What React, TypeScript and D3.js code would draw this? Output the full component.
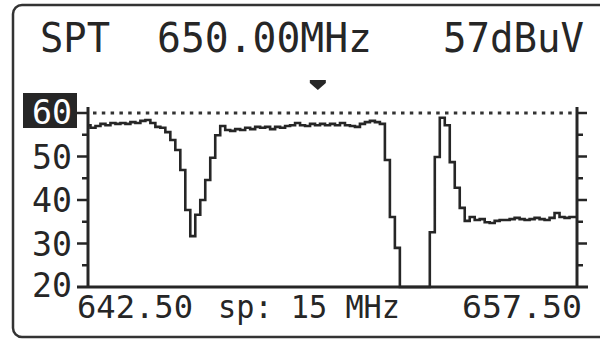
import React from "react";
import * as d3 from "d3";

const startFreq = 642.5;
const stopFreq = 657.5;
const markerFreq = 649.55;
const refLevel = 60;
const yTicks = [20, 30, 40, 50, 60];
const yMinorTicks = [25, 35, 45, 55];
const headerTexts = ["SPT", "650.00MHz", "57dBuV"];
const footerTexts = ["642.50", "sp: 15 MHz", "657.50"];

// trace level (dBuV) per sweep bin
const traceLevels = [
  57.2, 56.6, 57.0, 57.5, 57.2, 57.7, 57.5, 57.7, 57.5, 57.9,
  57.7, 58.2, 58.4, 57.7, 56.8, 56.6, 55.6, 53.8, 51.5, 46.9,
  37.7, 31.7, 36.6, 40.0, 44.6, 49.7, 54.9, 57.0, 56.1, 55.9,
  56.3, 56.1, 56.6, 56.3, 56.8, 56.6, 56.8, 56.3, 56.8, 56.6,
  57.0, 57.2, 57.7, 57.2, 57.0, 57.5, 57.2, 57.5, 57.2, 57.5,
  57.2, 57.7, 57.2, 57.0, 56.8, 57.5, 57.9, 58.2, 57.9, 57.5,
  49.2, 36.1, 29.0, 12.0, 12.0, 12.0, 12.0, 12.0, 12.0, 32.6,
  49.9, 58.9, 57.2, 48.7, 42.8, 38.2, 35.2, 36.1, 35.4, 35.6,
  34.9, 34.7, 35.2, 35.4, 35.4, 35.6, 35.9, 35.6, 35.4, 35.6,
  35.9, 35.6, 35.4, 35.9, 37.0, 36.1, 35.9, 36.1, 36.1,
];

const W = 600;
const H = 342;
const ink = "#262626";
const font = "'DejaVu Sans Mono', monospace";

export default function App() {
  const x = d3.scaleLinear().domain([startFreq, stopFreq]).range([88, 577]);
  const y = d3.scaleLinear().domain([20, 60]).range([287, 113]).clamp(true);
  const n = traceLevels.length;
  const binFreq = (i: number) => startFreq + (i * (stopFreq - startFreq)) / (n - 1);
  const line = d3
    .line<number>()
    .x((_, i) => x(binFreq(i)))
    .y((d) => y(d))
    .curve(d3.curveStep);
  const mx = x(markerFreq);

  return (
    <svg
      width={W}
      height={H}
      style={{ position: "absolute", left: 0, top: 0, background: "#fff" }}
    >
      <rect x={0} y={0} width={W} height={H} fill="#fff" />
      <rect x={13} y={5} width={620} height={332} rx={9} fill="none" stroke="#333" strokeWidth={2.5} />

      {/* header */}
      <g fontFamily={font} fontSize={40} fill={ink}>
        <text x={40} y={52} textLength={70} lengthAdjust="spacingAndGlyphs">{headerTexts[0]}</text>
        <text x={157} y={52} textLength={215} lengthAdjust="spacingAndGlyphs">{headerTexts[1]}</text>
        <text x={443} y={52} textLength={141} lengthAdjust="spacingAndGlyphs">{headerTexts[2]}</text>
      </g>

      {/* marker */}
      <path d={`M${mx - 8},80 L${mx + 8},80 L${mx + 8},83 L${mx},90 L${mx - 8},83 Z`} fill={ink} />

      {/* reference dotted line */}
      <line x1={93} x2={575} y1={y(refLevel)} y2={y(refLevel)} stroke="#333" strokeWidth={3} strokeDasharray="3.5 5.3" />

      {/* axes */}
      <line x1={88} x2={88} y1={107} y2={288} stroke={ink} strokeWidth={3} />
      <line x1={577} x2={577} y1={107} y2={288} stroke={ink} strokeWidth={3} />
      <line x1={77} x2={588} y1={y(20)} y2={y(20)} stroke={ink} strokeWidth={3} />
      {yTicks.filter((t) => t > 20).map((t) => (
        <g key={"t" + t}>
          <line x1={77} x2={88} y1={y(t)} y2={y(t)} stroke={ink} strokeWidth={2.5} />
          <line x1={577} x2={587} y1={y(t)} y2={y(t)} stroke={ink} strokeWidth={2.5} />
        </g>
      ))}
      {yMinorTicks.map((t) => (
        <g key={"m" + t}>
          <line x1={82} x2={88} y1={y(t)} y2={y(t)} stroke={ink} strokeWidth={2.5} />
          <line x1={577} x2={583} y1={y(t)} y2={y(t)} stroke={ink} strokeWidth={2.5} />
        </g>
      ))}

      {/* y labels */}
      <g fontFamily={font} fontSize={33} fill={ink}>
        {yTicks.map((t) =>
          t === refLevel ? (
            <g key={"l" + t}>
              <rect x={23} y={y(t) - 20} width={54} height={35} fill={ink} />
              <text x={32} y={y(t) + 11} fill="#fff" textLength={40} lengthAdjust="spacingAndGlyphs">{String(t)}</text>
            </g>
          ) : (
            <text key={"l" + t} x={32} y={y(t) + (t === 20 ? 10 : 12)} textLength={40} lengthAdjust="spacingAndGlyphs">{String(t)}</text>
          )
        )}
      </g>

      {/* trace */}
      <path d={line(traceLevels) || ""} fill="none" stroke={ink} strokeWidth={2.6} strokeLinejoin="miter" />

      {/* footer */}
      <g fontFamily={font} fontSize={32} fill={ink}>
        <text x={77} y={318} textLength={116} lengthAdjust="spacingAndGlyphs">{footerTexts[0]}</text>
        <text x={218} y={318} textLength={182} lengthAdjust="spacingAndGlyphs">{footerTexts[1]}</text>
        <text x={462} y={318} textLength={120} lengthAdjust="spacingAndGlyphs">{footerTexts[2]}</text>
      </g>
    </svg>
  );
}
